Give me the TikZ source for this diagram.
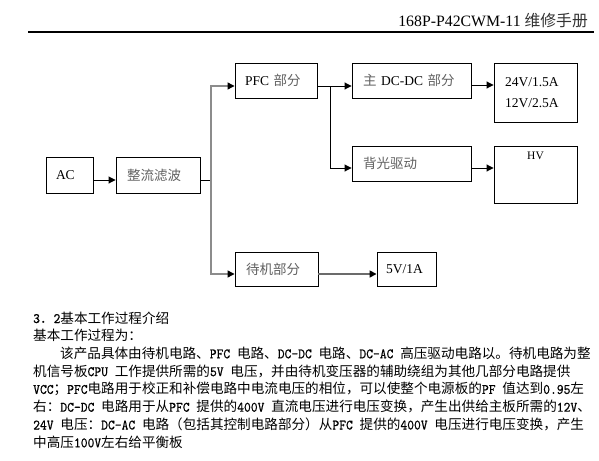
\documentclass[tikz,border=0pt]{standalone}
\usepackage{fontspec}
\setmainfont{Liberation Serif}
\newfontfamily\cjk{Noto Sans CJK SC}
\newfontfamily\monof{lmmono10-regular.otf}[FakeStretch=0.9, FakeBold=0.6]
\usetikzlibrary{arrows.meta}
\definecolor{cjkgray}{gray}{0.38}
\definecolor{busgray}{gray}{0.55}
\definecolor{sbgray}{gray}{0.42}
\newcommand\zh[1]{{\cjk\color{cjkgray}#1}}
\newcommand\tw[1]{{\monof\fontsize{14.4}{16}\selectfont #1}}
\tikzset{
  blk/.style={draw=black, line width=0.9pt, inner ysep=0pt, inner xsep=10pt,
    minimum height=35pt, align=left, font=\fontsize{13.5}{21}\selectfont},
  tipk/.style={-{Triangle[length=7pt,width=7pt,color=black]}},
  conn/.style={line width=0.9pt, black, tipk},
  plain/.style={line width=0.9pt, black},
  busline/.style={line width=1.2pt, busgray, tipk},
  sbline/.style={line width=1.6pt, sbgray, tipk},
  para/.style={anchor=base west, inner sep=0pt, font=\cjk\fontsize{13.6}{16}\selectfont},
  hdr/.style={anchor=base east, inner sep=0pt, font=\fontsize{15.8}{18}\selectfont}
}
\begin{document}
\begin{tikzpicture}[x=1pt,y=-1pt]
\useasboundingbox[fill=white] (0,0) rectangle (599,460);

% header
\node[hdr] (head) at (588,27) {168P-P42CWM-11 {\cjk\color{black!80}维修手册}};
\draw[line width=1.2pt] (28,32) -- (594,32);

% boxes
\node[blk, text width=27pt, minimum height=36pt] (ac) at (69.5,175) {AC};
\node[blk, inner xsep=11pt, text width=62pt, minimum height=36pt] (rect) at (158,175) {\zh{整流滤波}};
\node[blk, text width=62pt] (pfc) at (276,80.5) {PFC \zh{部分}};
\node[blk, inner xsep=11pt, text width=97pt] (dcdc) at (411.5,80.5) {\zh{主} DC-DC \zh{部分}};
\node[blk, inner xsep=11pt, text width=61pt, minimum height=59pt] (out) at (535.5,92.5) {24V/1.5A\\12V/2.5A};
\node[blk, inner xsep=11pt, text width=97pt] (bl) at (411.5,163.5) {\zh{背光驱动}};
\node[draw=black, line width=0.9pt, minimum width=83pt, minimum height=57pt, inner sep=0pt] (hv) at (535.5,174.5) {};
\node[inner sep=0pt, font=\fontsize{11.5}{13}\selectfont] (hvt) at ([yshift=-10pt]hv.north) {HV};
\node[blk, inner xsep=11pt, text width=61pt, minimum height=34pt] (sb) at (276.5,269) {\zh{待机部分}};
\node[blk, inner xsep=9pt, text width=41pt, minimum height=34pt] (v5) at (406.5,269) {5V/1A};

% connectors
\coordinate (bus) at (211,180);
\coordinate (j) at (330,86);
\draw[conn] ([yshift=-5pt]ac.east) -- ([yshift=-5pt]rect.west);
\draw[plain] ([yshift=-5pt]rect.east) -- (bus);
\draw[busline] (bus) |- ([yshift=-5.5pt]pfc.west);
\draw[busline] (bus) |- ([yshift=-5pt]sb.west);
\draw[plain] ([yshift=-5.5pt]pfc.east) -- (j);
\draw[conn] (j) -- ([yshift=-5.5pt]dcdc.west);
\draw[conn] (j) |- ([yshift=-4.5pt]bl.west);
\draw[conn] ([yshift=-4.5pt]dcdc.east) -- ([yshift=-4.5pt]dcdc.east -| out.west);
\draw[conn] ([yshift=-4.5pt]bl.east) -- ([yshift=-4.5pt]bl.east -| hv.west);
\draw[sbline] ([yshift=-5pt]sb.east) -- ([yshift=-5pt]v5.west);

% paragraph
\node[para] (p1) at (33,323) {\tw{3}．\tw{2}基本工作过程介绍};
\node[para] (p2) at (33,340) {基本工作过程为：};
\node[para] (p3) at (60,358.3) {该产品具体由待机电路、\tw{PFC }电路、\tw{DC-DC }电路、\tw{DC-AC }高压驱动电路以。待机电路为整};
\node[para] (p4) at (33,376.1) {机信号板\tw{CPU }工作提供所需的\tw{5V }电压，并由待机变压器的辅助绕组为其他几部分电路提供};
\node[para] (p5) at (33,393.9) {\tw{VCC}；\tw{PFC}电路用于校正和补偿电路中电流电压的相位，可以使整个电源板的\tw{PF }值达到\tw{0.95}左};
\node[para] (p6) at (33,411.7) {右：\tw{DC-DC }电路用于从\tw{PFC }提供的\tw{400V }直流电压进行电压变换，产生出供给主板所需的\tw{12V}、};
\node[para] (p7) at (33,429.5) {\tw{24V }电压：\tw{DC-AC }电路（包括其控制电路部分）从\tw{PFC }提供的\tw{400V }电压进行电压变换，产生};
\node[para] (p8) at (33,447.3) {中高压\tw{100V}左右给平衡板};
\end{tikzpicture}
\end{document}
